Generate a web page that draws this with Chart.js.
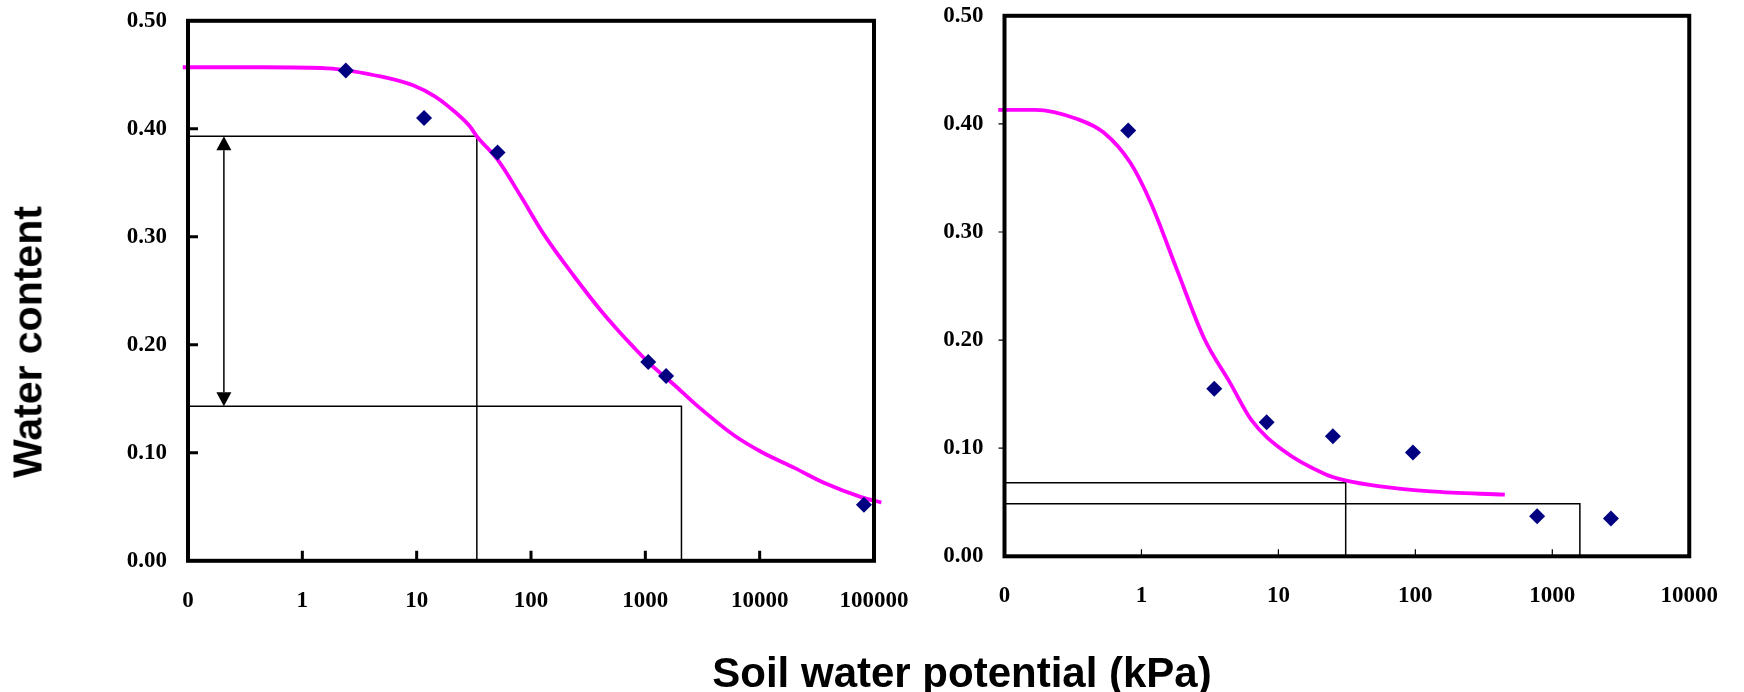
<!DOCTYPE html>
<html>
<head>
<meta charset="utf-8">
<script src="https://cdn.jsdelivr.net/npm/chart.js@4/dist/chart.umd.min.js"></script>
<style>
  html, body { margin: 0; padding: 0; background: #fff; }
  body { width: 1744px; height: 692px; position: relative; overflow: hidden; }
  canvas { position: absolute; top: 0; }
  #cA { left: 0; }
  #cB { left: 930px; }
  .lbl { position: absolute; font-family: 'Liberation Sans', Arial, sans-serif; font-weight: bold; color: #000; white-space: nowrap; }
  #xt { font-size: 42px; line-height: 42px; left: 962px; top: 652px; transform: translateX(-50%); }
  #yt { font-size: 41px; line-height: 41px; left: 27.5px; top: 341.5px; transform: translate(-50%, -50%) rotate(-90deg); }
</style>
</head>
<body>
<canvas id="cA" width="940" height="720"></canvas>
<canvas id="cB" width="814" height="720"></canvas>
<div id="xt" class="lbl">Soil water potential (kPa)</div>
<div id="yt" class="lbl">Water content</div>
<script>
// ---------- data ----------
// left panel
const leftTickValues = [0.1, 1, 10, 100, 1000, 10000, 100000];
const leftTickLabels = ['0', '1', '10', '100', '1000', '10000', '100000'];
const leftObsPsi   = [2.4, 11.6, 51, 1060, 1520, 81700];
const leftObsTheta = [0.454, 0.410, 0.378, 0.184, 0.171, 0.052];
const leftFitPsi   = [0.09, 0.46, 1.65, 5.06, 9.4, 14.4, 18.8, 28.8, 33.6, 51.4, 82, 130, 240, 406, 570, 771, 1057, 1786, 2675, 6000, 10280, 20140, 36900, 77400, 116000];
const leftFitTheta = [0.457, 0.457, 0.456, 0.448, 0.440, 0.430, 0.421, 0.403, 0.393, 0.371, 0.337, 0.302, 0.263, 0.232, 0.214, 0.199, 0.184, 0.163, 0.146, 0.116, 0.101, 0.086, 0.072, 0.059, 0.054];
const leftFcPsi = 33.6, leftFcTheta = 0.393;
const leftWpPsi = 2070, leftWpTheta = 0.143;
const leftArrowPsi = 0.206;

// right panel
const rightTickValues = [0.1, 1, 10, 100, 1000, 10000];
const rightTickLabels = ['0', '1', '10', '100', '1000', '10000'];
const rightObsPsi   = [0.8, 3.4, 8.2, 25, 96, 775, 2680];
const rightObsTheta = [0.394, 0.155, 0.124, 0.111, 0.096, 0.037, 0.035];
const rightFitPsi   = [0.09, 0.167, 0.34, 0.53, 0.83, 1.18, 1.83, 2.86, 4.46, 6.36, 10.8, 22, 31.4, 53.5, 130, 450];
const rightFitTheta = [0.413, 0.413, 0.4045, 0.392, 0.364, 0.326, 0.264, 0.202, 0.160, 0.126, 0.098, 0.076, 0.070, 0.065, 0.060, 0.057];
const rightFcPsi = 31, rightFcTheta = 0.068;
const rightWpPsi = 1590, rightWpTheta = 0.0487;

// shared y axis
const yTickValues = [0, 0.1, 0.2, 0.3, 0.4, 0.5];
const yTickLabels = ['0.00', '0.10', '0.20', '0.30', '0.40', '0.50'];

// ---------- helpers ----------
const zip = (xs, ys) => xs.map((x, i) => ({ x: x, y: ys[i] }));

const framePlugin = {
  id: 'frame',
  afterDatasetsDraw(chart, args, o) {
    const ctx = chart.ctx, a = chart.chartArea, xs = chart.scales.x, ys = chart.scales.y;
    ctx.save();
    ctx.strokeStyle = '#000';
    ctx.fillStyle = '#000';
    if (o.arrow) {
      const ax = xs.getPixelForValue(o.arrow.x);
      const y1 = ys.getPixelForValue(o.arrow.y1);
      const y2 = ys.getPixelForValue(o.arrow.y2);
      const hw = 7.5, hh = 14;
      ctx.lineWidth = 1.5;
      ctx.beginPath(); ctx.moveTo(ax, y1 + hh); ctx.lineTo(ax, y2 - hh); ctx.stroke();
      ctx.beginPath(); ctx.moveTo(ax, y1); ctx.lineTo(ax - hw, y1 + hh); ctx.lineTo(ax + hw, y1 + hh); ctx.closePath(); ctx.fill();
      ctx.beginPath(); ctx.moveTo(ax, y2); ctx.lineTo(ax - hw, y2 - hh); ctx.lineTo(ax + hw, y2 - hh); ctx.closePath(); ctx.fill();
    }
    ctx.lineWidth = o.tickWidth;
    ctx.beginPath();
    for (const v of o.yTicks) {
      const py = ys.getPixelForValue(v);
      ctx.moveTo(a.left, py); ctx.lineTo(a.left + o.yTickLen, py);
    }
    for (const v of o.xTicks) {
      const px = xs.getPixelForValue(v);
      ctx.moveTo(px, a.bottom); ctx.lineTo(px, a.bottom - o.xTickLen);
    }
    ctx.stroke();
    ctx.lineWidth = o.boxWidth;
    ctx.strokeRect(a.left, a.top, a.right - a.left, a.bottom - a.top);
    ctx.restore();
  }
};

function makeChart(id, cfg) {
  const tickFont = { family: "'Liberation Serif', 'Times New Roman', serif", weight: 'bold', size: 23 };
  const canvas = document.getElementById(id);
  const chart = new Chart(canvas, {
    type: 'scatter',
    data: {
      datasets: [
        {
          label: 'observed',
          data: zip(cfg.obsPsi, cfg.obsTheta),
          pointStyle: 'rectRot', pointRadius: 8, pointHoverRadius: 8,
          backgroundColor: '#000080', borderColor: '#000080', borderWidth: 0,
          showLine: false, clip: false
        },
        {
          label: 'fitted',
          type: 'line',
          data: zip(cfg.fitPsi, cfg.fitTheta),
          borderColor: '#FF00FF', borderWidth: 3.8, pointRadius: 0,
          cubicInterpolationMode: 'monotone',
          fill: false, clip: false
        },
        {
          label: 'fc',
          type: 'line',
          data: [{ x: 0.1, y: cfg.fc[1] }, { x: cfg.fc[0], y: cfg.fc[1] }, { x: cfg.fc[0], y: 0 }],
          borderColor: '#000', borderWidth: 1.5, pointRadius: 0, tension: 0, fill: false
        },
        {
          label: 'wp',
          type: 'line',
          data: [{ x: 0.1, y: cfg.wp[1] }, { x: cfg.wp[0], y: cfg.wp[1] }, { x: cfg.wp[0], y: 0 }],
          borderColor: '#000', borderWidth: 1.5, pointRadius: 0, tension: 0, fill: false
        }
      ]
    },
    options: {
      responsive: false,
      animation: false,
      devicePixelRatio: 1,
      layout: { padding: { left: cfg.padLeft, right: cfg.padRight, top: 0, bottom: 60 } },
      plugins: {
        legend: { display: false },
        tooltip: { enabled: false },
        frame: {
          arrow: cfg.arrow,
          xTicks: cfg.tickValues.slice(1, -1),
          yTicks: yTickValues.slice(1, -1),
          xTickLen: cfg.xTickLen, yTickLen: cfg.yTickLen,
          tickWidth: cfg.tickWidth, boxWidth: 4
        }
      },
      scales: {
        x: {
          type: 'logarithmic',
          min: 0.1, max: cfg.tickValues[cfg.tickValues.length - 1],
          grid: { display: false, drawTicks: false },
          border: { display: false },
          afterBuildTicks: (s) => { s.ticks = cfg.tickValues.map(v => ({ value: v })); },
          afterFit: (s) => { s.height = 60; },
          ticks: {
            autoSkip: false, maxRotation: 0, minRotation: 0,
            padding: 26, color: '#000', font: tickFont,
            callback: (v, i) => cfg.tickLabels[i]
          }
        },
        y: {
          type: 'linear', min: 0, max: 0.5,
          grid: { display: false, drawTicks: false },
          border: { display: false },
          afterBuildTicks: (s) => { s.ticks = yTickValues.map(v => ({ value: v })); },
          afterFit: (s) => { s.width = 70; },
          ticks: {
            padding: 21, color: '#000', font: tickFont,
            callback: (v, i) => yTickLabels[i]
          }
        }
      }
    },
    plugins: [framePlugin]
  });
  // place the plot area at the wanted height: fix its size, then shift the canvas
  const T = chart.chartArea.top;
  chart.options.layout.padding.bottom = canvas.height - 60 - (T + cfg.areaHeight);
  chart.update();
  canvas.style.top = (cfg.areaTop - chart.chartArea.top) + 'px';
  return chart;
}

makeChart('cA', {
  obsPsi: leftObsPsi, obsTheta: leftObsTheta,
  fitPsi: leftFitPsi, fitTheta: leftFitTheta,
  fc: [leftFcPsi, leftFcTheta], wp: [leftWpPsi, leftWpTheta],
  arrow: { x: leftArrowPsi, y1: leftFcTheta, y2: leftWpTheta },
  tickValues: leftTickValues, tickLabels: leftTickLabels,
  padLeft: 118, padRight: 66, areaTop: 20.7, areaHeight: 540,
  xTickLen: 10, yTickLen: 10, tickWidth: 3
});

makeChart('cB', {
  obsPsi: rightObsPsi, obsTheta: rightObsTheta,
  fitPsi: rightFitPsi, fitTheta: rightFitTheta,
  fc: [rightFcPsi, rightFcTheta], wp: [rightWpPsi, rightWpTheta],
  arrow: null,
  tickValues: rightTickValues, tickLabels: rightTickLabels,
  padLeft: 4.5, padRight: 42, areaTop: 15.7, areaHeight: 540.5,
  xTickLen: 7, yTickLen: -6, tickWidth: 1.2
});
</script>
</body>
</html>
